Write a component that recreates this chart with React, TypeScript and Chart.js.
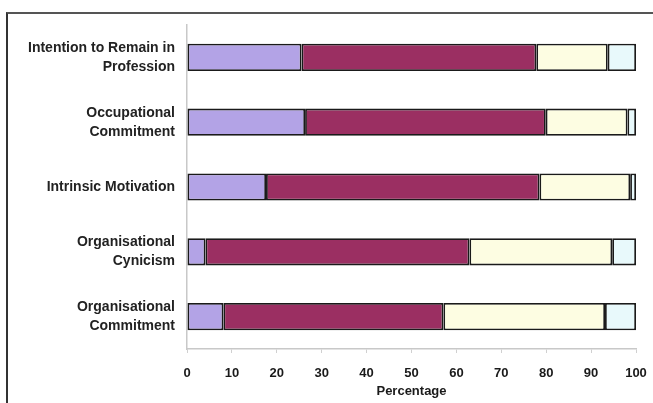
import React, { useEffect, useRef } from "react";
import { Chart, registerables } from "chart.js";

Chart.register(...registerables);

const categories: (string | string[])[] = [
  ["Intention to Remain in", "Profession"],
  ["Occupational", "Commitment"],
  "Intrinsic Motivation",
  ["Organisational", "Cynicism"],
  ["Organisational", "Commitment"],
];

const seriesA = [25.5, 26.3, 17.6, 4.1, 8.1];
const seriesB = [52.3, 53.6, 60.9, 58.8, 49.0];
const seriesC = [15.9, 18.2, 20.2, 31.8, 36.0];
const seriesD = [6.3, 1.9, 1.3, 5.3, 6.9];

const xTicks = [0, 10, 20, 30, 40, 50, 60, 70, 80, 90, 100];

const colours = ["#b3a3e6", "#9b2f62", "#fdfde2", "#e8f9fb"];

export default function App() {
  const ref = useRef<HTMLCanvasElement>(null);
  useEffect(() => {
    if (!ref.current) return;
    const mk = (data: number[], c: string) => ({
      data,
      backgroundColor: c,
      borderColor: "#1a1a1a",
      borderWidth: 1.8,
      borderSkipped: false as const,
      barPercentage: 0.42,
      categoryPercentage: 1,
    });
    const chart = new Chart(ref.current, {
      type: "bar",
      data: {
        labels: categories,
        datasets: [
          mk(seriesA, colours[0]),
          mk(seriesB, colours[1]),
          mk(seriesC, colours[2]),
          mk(seriesD, colours[3]),
        ],
      },
      options: {
        indexAxis: "y",
        animation: false,
        responsive: false,
        layout: { padding: { left: 0, right: 17, top: 25, bottom: 0 } },
        plugins: { legend: { display: false }, tooltip: { enabled: false } },
        scales: {
          x: {
            stacked: true,
            min: 0,
            max: 100,
            afterBuildTicks: (s: any) => {
              s.ticks = xTicks.map((v) => ({ value: v }));
            },
            afterFit: (s: any) => {
              s.height = 54;
              s.paddingRight = 0;
              s.paddingLeft = 0;
            },
            grid: {
              drawOnChartArea: false,
              drawTicks: true,
              tickLength: 4,
              color: "#d0d0d0",
            },
            border: { display: true, color: "#c8c8c8", width: 1.5 },
            ticks: {
              padding: 13,
              color: "#1a1a1a",
              font: { family: "Liberation Sans, Arial, sans-serif", size: 13, weight: "bold" },
            },
            title: {
              display: true,
              text: "Percentage",
              color: "#1a1a1a",
              padding: { top: 4, bottom: 4 },
              font: { family: "Liberation Sans, Arial, sans-serif", size: 13, weight: "bold" },
            },
          },
          y: {
            stacked: true,
            afterFit: (s: any) => {
              s.width = 187;
            },
            grid: { display: false },
            border: { display: true, color: "#c8c8c8", width: 1.5 },
            ticks: {
              padding: 4,
              color: "#222222",
              font: {
                family: "Liberation Sans, Arial, sans-serif",
                size: 14,
                weight: "bold",
                lineHeight: 1.36,
              },
            },
          },
        },
      },
    });
    return () => chart.destroy();
  }, []);
  return (
    <div style={{ position: "fixed", left: 0, top: 0, width: 653, height: 403, background: "#fff" }}>
      <canvas ref={ref} width={653} height={403} style={{ position: "absolute", left: 0, top: 0 }} />
      <div
        style={{
          position: "absolute",
          left: 6,
          top: 12,
          width: 660,
          height: 400,
          borderLeft: "2px solid #333",
          borderTop: "2px solid #555",
          pointerEvents: "none",
        }}
      />
    </div>
  );
}
